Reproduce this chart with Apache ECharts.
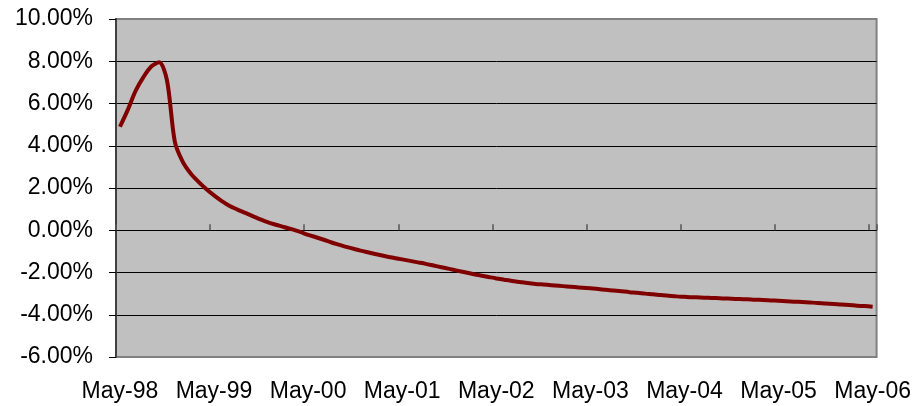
<!DOCTYPE html>
<html>
<head>
<meta charset="utf-8">
<script src="https://cdn.jsdelivr.net/npm/echarts@6/dist/echarts.min.js"></script>
<style>
  html, body { margin: 0; padding: 0; background: #fff; }
  #chart { width: 914px; height: 406px; }
</style>
</head>
<body>
<div id="chart"></div>
<script>
// monthly categories, May-98 .. May-06
var months = [
  'May-98','Jun-98','Jul-98','Aug-98','Sep-98','Oct-98','Nov-98','Dec-98',
  'Jan-99','Feb-99','Mar-99','Apr-99','May-99','Jun-99','Jul-99','Aug-99','Sep-99','Oct-99','Nov-99','Dec-99',
  'Jan-00','Feb-00','Mar-00','Apr-00','May-00','Jun-00','Jul-00','Aug-00','Sep-00','Oct-00','Nov-00','Dec-00',
  'Jan-01','Feb-01','Mar-01','Apr-01','May-01','Jun-01','Jul-01','Aug-01','Sep-01','Oct-01','Nov-01','Dec-01',
  'Jan-02','Feb-02','Mar-02','Apr-02','May-02','Jun-02','Jul-02','Aug-02','Sep-02','Oct-02','Nov-02','Dec-02',
  'Jan-03','Feb-03','Mar-03','Apr-03','May-03','Jun-03','Jul-03','Aug-03','Sep-03','Oct-03','Nov-03','Dec-03',
  'Jan-04','Feb-04','Mar-04','Apr-04','May-04','Jun-04','Jul-04','Aug-04','Sep-04','Oct-04','Nov-04','Dec-04',
  'Jan-05','Feb-05','Mar-05','Apr-05','May-05','Jun-05','Jul-05','Aug-05','Sep-05','Oct-05','Nov-05','Dec-05',
  'Jan-06','Feb-06','Mar-06','Apr-06','May-06'
];

// values in percent
var rates = [
  4.90, 5.70, 6.60, 7.25, 7.75, 7.95, 7.10, 4.20,
  3.25, 2.70, 2.30, 1.95, 1.65, 1.38, 1.15, 0.98, 0.82, 0.66, 0.50, 0.36,
  0.25, 0.14, 0.04, -0.08, -0.22, -0.33, -0.45, -0.58, -0.69, -0.80, -0.90, -0.99,
  -1.08, -1.16, -1.24, -1.31, -1.38, -1.45, -1.52, -1.59, -1.67, -1.75, -1.83, -1.91,
  -1.99, -2.07, -2.14, -2.21, -2.28, -2.34, -2.40, -2.45, -2.50, -2.54, -2.57, -2.60,
  -2.63, -2.66, -2.69, -2.72, -2.75, -2.78, -2.82, -2.85, -2.89, -2.93, -2.96, -3.00,
  -3.03, -3.07, -3.10, -3.13, -3.15, -3.17, -3.18, -3.20, -3.21, -3.23, -3.24, -3.26,
  -3.27, -3.29, -3.30, -3.32, -3.34, -3.36, -3.38, -3.40, -3.42, -3.44, -3.47, -3.49,
  -3.52, -3.54, -3.57, -3.59, -3.62
];

var yMin = -6, yMax = 10, yStep = 2;
var fontFam = '"Liberation Sans", Arial, sans-serif';

var chart = echarts.init(document.getElementById('chart'));
var option = {
  animation: false,
  grid: {
    left: 116, right: 37, top: 19, bottom: 49,
    show: true,
    backgroundColor: '#C0C0C0',
    borderColor: '#808080',
    borderWidth: 2
  },
  xAxis: [{
    // labels at the bottom
    type: 'category',
    data: months,
    boundaryGap: true,
    axisLine: { show: false, onZero: false },
    axisTick: { show: false },
    splitLine: { show: false },
    axisLabel: {
      interval: 11,
      margin: 23,
      color: '#000',
      fontSize: 23,
      fontFamily: fontFam
    }
  }, {
    // line + ticks sitting on zero
    type: 'category',
    data: months,
    boundaryGap: true,
    axisLine: { show: true, onZero: true, lineStyle: { color: '#000', width: 1 } },
    axisTick: { show: true, interval: 11, length: 6, lineStyle: { color: '#555', width: 1.5 } },
    axisLabel: { show: false },
    splitLine: { show: false }
  }],
  yAxis: {
    type: 'value',
    min: yMin,
    max: yMax,
    interval: yStep,
    axisLine: { show: true, lineStyle: { color: '#404040', width: 2 } },
    axisTick: { show: true, length: 7, lineStyle: { color: '#000', width: 1 } },
    splitLine: { show: true, showMinLine: false, showMaxLine: false, lineStyle: { color: '#000', width: 1 } },
    axisLabel: {
      margin: 23,
      color: '#000',
      fontSize: 23,
      fontFamily: fontFam,
      formatter: function (v) { return v.toFixed(2) + '%'; }
    }
  },
  series: [{
    type: 'line',
    xAxisIndex: 0,
    data: rates,
    smooth: 0.3,
    showSymbol: false,
    lineStyle: { color: '#800000', width: 4 }
  }]
};
chart.setOption(option);
</script>
</body>
</html>
